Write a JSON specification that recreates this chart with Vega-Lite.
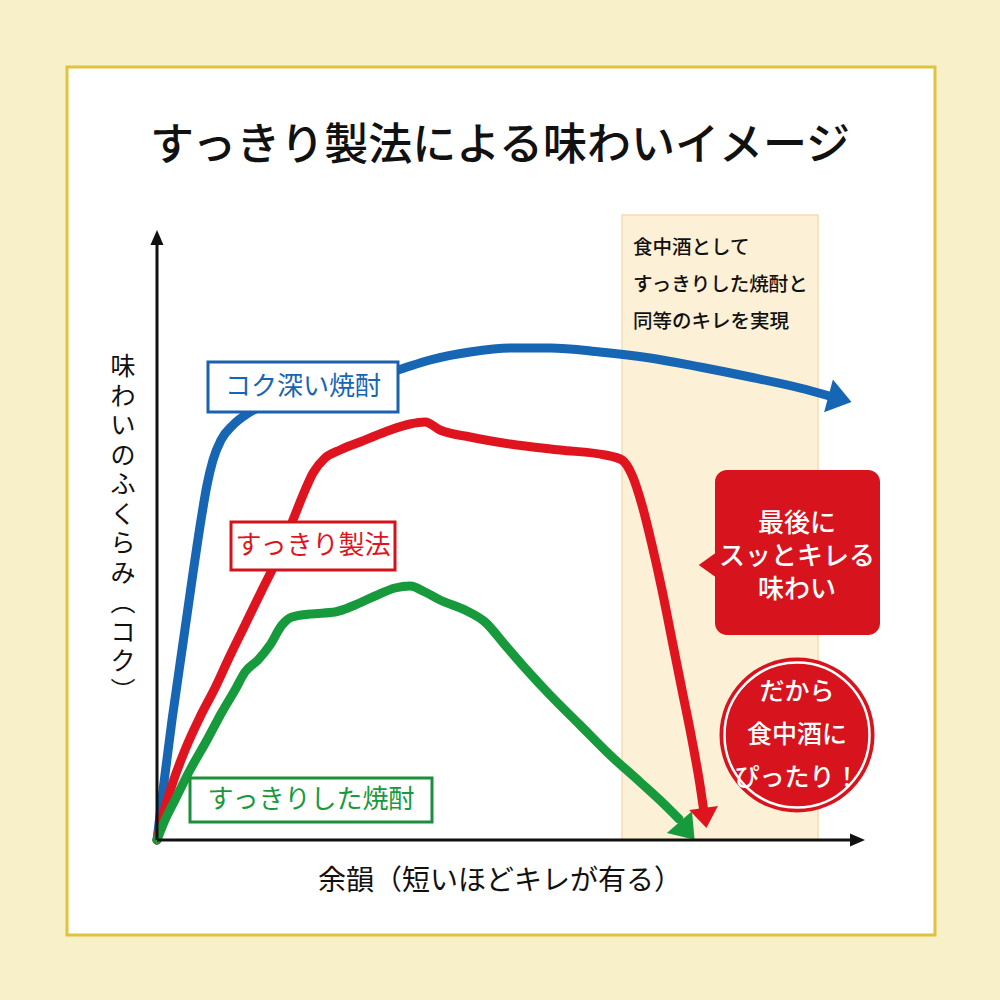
{
  "$schema": "https://vega.github.io/schema/vega-lite/v6.json",
  "autosize": {"type": "fit", "contains": "padding"},
  "width": 1000,
  "height": 1000,
  "padding": 0,
  "background": "#f7f0c9",
  "config": {"view": {"stroke": null}, "text": {"font": "Noto Sans CJK JP"}},
  "encoding": {
    "x": {"field": "x", "type": "quantitative", "axis": null, "scale": {"domain": [-157, 843], "nice": false, "zero": false}},
    "y": {"field": "y", "type": "quantitative", "axis": null, "scale": {"domain": [-160, 840], "nice": false, "zero": false}}
  },
  "layer": [
    {
      "data": {"values": [{"x": -90, "x2": 778, "y": 773, "y2": -95}]},
      "mark": {"type": "rect", "fill": "#ffffff", "stroke": "#dfc23e", "strokeWidth": 3},
      "encoding": {"x2": {"field": "x2"}, "y2": {"field": "y2"}}
    },
    {
      "data": {"values": [{"x": 465, "x2": 661, "y": 625, "y2": 0}]},
      "mark": {"type": "rect", "fill": "#fcf0d6", "stroke": "#f3dcae", "strokeWidth": 1.5},
      "encoding": {"x2": {"field": "x2"}, "y2": {"field": "y2"}}
    },
    {
      "data": {"values": [
        {"s": "コク深い焼酎", "i": 0, "x": 0, "y": 0},
        {"s": "コク深い焼酎", "i": 1, "x": 6, "y": 50},
        {"s": "コク深い焼酎", "i": 2, "x": 15, "y": 120},
        {"s": "コク深い焼酎", "i": 3, "x": 25, "y": 190},
        {"s": "コク深い焼酎", "i": 4, "x": 35, "y": 260},
        {"s": "コク深い焼酎", "i": 5, "x": 44, "y": 320},
        {"s": "コク深い焼酎", "i": 6, "x": 50, "y": 355},
        {"s": "コク深い焼酎", "i": 7, "x": 56, "y": 380},
        {"s": "コク深い焼酎", "i": 8, "x": 64, "y": 400},
        {"s": "コク深い焼酎", "i": 9, "x": 76, "y": 415},
        {"s": "コク深い焼酎", "i": 10, "x": 93, "y": 428},
        {"s": "コク深い焼酎", "i": 11, "x": 123, "y": 440},
        {"s": "コク深い焼酎", "i": 12, "x": 173, "y": 452},
        {"s": "コク深い焼酎", "i": 13, "x": 241, "y": 470},
        {"s": "コク深い焼酎", "i": 14, "x": 273, "y": 480},
        {"s": "コク深い焼酎", "i": 15, "x": 313, "y": 488},
        {"s": "コク深い焼酎", "i": 16, "x": 353, "y": 492},
        {"s": "コク深い焼酎", "i": 17, "x": 393, "y": 492},
        {"s": "コク深い焼酎", "i": 18, "x": 443, "y": 488},
        {"s": "コク深い焼酎", "i": 19, "x": 493, "y": 482},
        {"s": "コク深い焼酎", "i": 20, "x": 543, "y": 473},
        {"s": "コク深い焼酎", "i": 21, "x": 593, "y": 463},
        {"s": "コク深い焼酎", "i": 22, "x": 643, "y": 452},
        {"s": "コク深い焼酎", "i": 23, "x": 676, "y": 443},
        {"s": "すっきり製法", "i": 0, "x": 0, "y": 0},
        {"s": "すっきり製法", "i": 1, "x": 6, "y": 25},
        {"s": "すっきり製法", "i": 2, "x": 15, "y": 55},
        {"s": "すっきり製法", "i": 3, "x": 28, "y": 90},
        {"s": "すっきり製法", "i": 4, "x": 43, "y": 123},
        {"s": "すっきり製法", "i": 5, "x": 58, "y": 152},
        {"s": "すっきり製法", "i": 6, "x": 71, "y": 180},
        {"s": "すっきり製法", "i": 7, "x": 88, "y": 215},
        {"s": "すっきり製法", "i": 8, "x": 105, "y": 250},
        {"s": "すっきり製法", "i": 9, "x": 123, "y": 287},
        {"s": "すっきり製法", "i": 10, "x": 136, "y": 320},
        {"s": "すっきり製法", "i": 11, "x": 146, "y": 345},
        {"s": "すっきり製法", "i": 12, "x": 156, "y": 367},
        {"s": "すっきり製法", "i": 13, "x": 168, "y": 382},
        {"s": "すっきり製法", "i": 14, "x": 183, "y": 390},
        {"s": "すっきり製法", "i": 15, "x": 203, "y": 398},
        {"s": "すっきり製法", "i": 16, "x": 228, "y": 408},
        {"s": "すっきり製法", "i": 17, "x": 253, "y": 416},
        {"s": "すっきり製法", "i": 18, "x": 268, "y": 418},
        {"s": "すっきり製法", "i": 19, "x": 283, "y": 410},
        {"s": "すっきり製法", "i": 20, "x": 313, "y": 403},
        {"s": "すっきり製法", "i": 21, "x": 353, "y": 396},
        {"s": "すっきり製法", "i": 22, "x": 403, "y": 390},
        {"s": "すっきり製法", "i": 23, "x": 448, "y": 385},
        {"s": "すっきり製法", "i": 24, "x": 465, "y": 380},
        {"s": "すっきり製法", "i": 25, "x": 475, "y": 365},
        {"s": "すっきり製法", "i": 26, "x": 485, "y": 335},
        {"s": "すっきり製法", "i": 27, "x": 495, "y": 295},
        {"s": "すっきり製法", "i": 28, "x": 505, "y": 250},
        {"s": "すっきり製法", "i": 29, "x": 515, "y": 200},
        {"s": "すっきり製法", "i": 30, "x": 525, "y": 150},
        {"s": "すっきり製法", "i": 31, "x": 535, "y": 100},
        {"s": "すっきり製法", "i": 32, "x": 543, "y": 55},
        {"s": "すっきり製法", "i": 33, "x": 547, "y": 28},
        {"s": "すっきりした焼酎", "i": 0, "x": 0, "y": 0},
        {"s": "すっきりした焼酎", "i": 1, "x": 8, "y": 20},
        {"s": "すっきりした焼酎", "i": 2, "x": 18, "y": 40},
        {"s": "すっきりした焼酎", "i": 3, "x": 33, "y": 70},
        {"s": "すっきりした焼酎", "i": 4, "x": 50, "y": 100},
        {"s": "すっきりした焼酎", "i": 5, "x": 65, "y": 128},
        {"s": "すっきりした焼酎", "i": 6, "x": 78, "y": 150},
        {"s": "すっきりした焼酎", "i": 7, "x": 88, "y": 168},
        {"s": "すっきりした焼酎", "i": 8, "x": 101, "y": 180},
        {"s": "すっきりした焼酎", "i": 9, "x": 113, "y": 195},
        {"s": "すっきりした焼酎", "i": 10, "x": 125, "y": 215},
        {"s": "すっきりした焼酎", "i": 11, "x": 135, "y": 223},
        {"s": "すっきりした焼酎", "i": 12, "x": 153, "y": 226},
        {"s": "すっきりした焼酎", "i": 13, "x": 178, "y": 228},
        {"s": "すっきりした焼酎", "i": 14, "x": 198, "y": 235},
        {"s": "すっきりした焼酎", "i": 15, "x": 218, "y": 244},
        {"s": "すっきりした焼酎", "i": 16, "x": 238, "y": 252},
        {"s": "すっきりした焼酎", "i": 17, "x": 253, "y": 254},
        {"s": "すっきりした焼酎", "i": 18, "x": 268, "y": 248},
        {"s": "すっきりした焼酎", "i": 19, "x": 283, "y": 240},
        {"s": "すっきりした焼酎", "i": 20, "x": 308, "y": 230},
        {"s": "すっきりした焼酎", "i": 21, "x": 328, "y": 218},
        {"s": "すっきりした焼酎", "i": 22, "x": 348, "y": 195},
        {"s": "すっきりした焼酎", "i": 23, "x": 368, "y": 172},
        {"s": "すっきりした焼酎", "i": 24, "x": 393, "y": 145},
        {"s": "すっきりした焼酎", "i": 25, "x": 423, "y": 115},
        {"s": "すっきりした焼酎", "i": 26, "x": 453, "y": 85},
        {"s": "すっきりした焼酎", "i": 27, "x": 483, "y": 58},
        {"s": "すっきりした焼酎", "i": 28, "x": 508, "y": 35},
        {"s": "すっきりした焼酎", "i": 29, "x": 522, "y": 21}
      ]},
      "mark": {"type": "line", "interpolate": "monotone", "strokeCap": "round", "strokeJoin": "round"},
      "encoding": {
        "color": {"field": "s", "type": "nominal", "legend": null, "scale": {"domain": ["コク深い焼酎", "すっきり製法", "すっきりした焼酎"], "range": ["#1766b3", "#e0141f", "#179a3c"]}},
        "strokeWidth": {"field": "s", "type": "nominal", "legend": null, "scale": {"domain": ["コク深い焼酎", "すっきり製法", "すっきりした焼酎"], "range": [9, 9, 12]}},
        "order": {"field": "i", "type": "quantitative"}
      }
    },
    {
      "data": {"values": [{"s": "コク深い焼酎", "x": 683, "y": 441}]},
      "mark": {"type": "point", "shape": "M0,-0.7L1,0.7L-1,0.7Z", "filled": true, "opacity": 1, "size": 1156, "angle": 105, "color": "#1766b3"}
    },
    {
      "data": {"values": [{"s": "すっきり製法", "x": 548, "y": 22}]},
      "mark": {"type": "point", "shape": "M0,-0.7L1,0.7L-1,0.7Z", "filled": true, "opacity": 1, "size": 841, "angle": 172, "color": "#e0141f"}
    },
    {
      "data": {"values": [{"s": "すっきりした焼酎", "x": 530, "y": 9}]},
      "mark": {"type": "point", "shape": "M0,-0.7L1,0.7L-1,0.7Z", "filled": true, "opacity": 1, "size": 1100, "angle": 139, "color": "#179a3c"}
    },
    {
      "data": {"values": [{"x": 0, "y": 0, "x2": 0, "y2": 598}, {"x": 0, "y": 0, "x2": 698, "y2": 0}]},
      "mark": {"type": "rule", "color": "#111111", "strokeWidth": 3},
      "encoding": {"x2": {"field": "x2"}, "y2": {"field": "y2"}}
    },
    {
      "data": {"values": [{"x": 0, "y": 602.5}]},
      "mark": {"type": "point", "shape": "M0,-1L0.87,1L-0.87,1Z", "filled": true, "opacity": 1, "size": 225, "angle": 0, "color": "#111111"}
    },
    {
      "data": {"values": [{"x": 700.5, "y": 0}]},
      "mark": {"type": "point", "shape": "M0,-1L0.87,1L-0.87,1Z", "filled": true, "opacity": 1, "size": 225, "angle": 90, "color": "#111111"}
    },
    {
      "data": {"values": [
        {"s": "コク深い焼酎", "x": 51, "x2": 241, "y": 478, "y2": 428},
        {"s": "すっきり製法", "x": 74, "x2": 238, "y": 318, "y2": 270},
        {"s": "すっきりした焼酎", "x": 33, "x2": 275, "y": 62, "y2": 18}
      ]},
      "mark": {"type": "rect", "fill": "#ffffff", "strokeWidth": 3},
      "encoding": {
        "x2": {"field": "x2"}, "y2": {"field": "y2"},
        "stroke": {"field": "s", "type": "nominal", "legend": null, "scale": {"domain": ["コク深い焼酎", "すっきり製法", "すっきりした焼酎"], "range": ["#1a62ad", "#d4121c", "#1b8f3a"]}}
      }
    },
    {
      "data": {"values": [
        {"s": "コク深い焼酎", "x": 146, "y": 453},
        {"s": "すっきり製法", "x": 156, "y": 294},
        {"s": "すっきりした焼酎", "x": 154, "y": 40}
      ]},
      "mark": {"type": "text", "fontSize": 26, "align": "center", "baseline": "middle"},
      "encoding": {
        "text": {"field": "s"},
        "color": {"field": "s", "type": "nominal", "legend": null}
      }
    },
    {
      "data": {"values": [{"t": "食中酒として\nすっきりした焼酎と\n同等のキレを実現", "x": 476, "y": 592}]},
      "mark": {"type": "text", "fontSize": 19.5, "fontWeight": 500, "align": "left", "baseline": "middle", "lineBreak": "\n", "lineHeight": 37, "color": "#111111"},
      "encoding": {"text": {"field": "t"}}
    },
    {
      "data": {"values": [{"x": 558, "x2": 723, "y": 370, "y2": 205}]},
      "mark": {"type": "rect", "fill": "#d7141d", "cornerRadius": 12},
      "encoding": {"x2": {"field": "x2"}, "y2": {"field": "y2"}}
    },
    {
      "data": {"values": [{"x": 551, "y": 275}]},
      "mark": {"type": "point", "shape": "M0,-0.7L1,0.7L-1,0.7Z", "filled": true, "opacity": 1, "size": 700, "angle": 270, "color": "#d7141d"}
    },
    {
      "data": {"values": [{"t": "最後に\nスッとキレる\n味わい", "x": 640, "y": 316}]},
      "mark": {"type": "text", "fontSize": 26, "fontWeight": 500, "align": "center", "baseline": "middle", "lineBreak": "\n", "lineHeight": 33, "color": "#ffffff"},
      "encoding": {"text": {"field": "t"}}
    },
    {
      "data": {"values": [{"x": 640, "y": 105}]},
      "mark": {"type": "point", "shape": "circle", "filled": true, "opacity": 1, "size": 24025, "color": "#d7141d"}
    },
    {
      "data": {"values": [{"x": 640, "y": 105}]},
      "mark": {"type": "point", "shape": "circle", "filled": false, "opacity": 1, "size": 21025, "stroke": "#ffffff", "strokeWidth": 2.5}
    },
    {
      "data": {"values": [{"t": "だから\n食中酒に\nぴったり！", "x": 640, "y": 148}]},
      "mark": {"type": "text", "fontSize": 25, "fontWeight": 500, "align": "center", "baseline": "middle", "lineBreak": "\n", "lineHeight": 43, "color": "#ffffff"},
      "encoding": {"text": {"field": "t"}}
    },
    {
      "data": {"values": [{"t": "すっきり製法による味わいイメージ", "x": 343, "y": 693}]},
      "mark": {"type": "text", "fontSize": 44, "fontWeight": 500, "align": "center", "baseline": "middle", "color": "#111111"},
      "encoding": {"text": {"field": "t"}}
    },
    {
      "data": {"values": [{"t": "余韻（短いほどキレが有る）", "x": 343, "y": -42}]},
      "mark": {"type": "text", "fontSize": 28, "align": "center", "baseline": "middle", "color": "#111111"},
      "encoding": {"text": {"field": "t"}}
    },
    {
      "data": {"values": [{"t": "味\nわ\nい\nの\nふ\nく\nら\nみ\n︵\nコ\nク\n︶", "x": -34, "y": 473}]},
      "mark": {"type": "text", "fontSize": 25, "align": "center", "baseline": "middle", "lineBreak": "\n", "lineHeight": 29.5, "color": "#111111"},
      "encoding": {"text": {"field": "t"}}
    }
  ]
}
